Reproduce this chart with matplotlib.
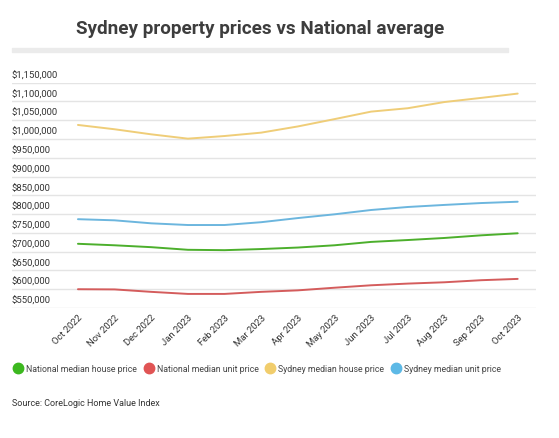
import matplotlib
matplotlib.use("Agg")
import matplotlib.pyplot as plt
import matplotlib.transforms as mtransforms
from matplotlib.lines import Line2D
from matplotlib.patches import Rectangle

plt.rcParams['font.family'] = ['Roboto', 'DejaVu Sans']

months = ["Oct 2022", "Nov 2022", "Dec 2022", "Jan 2023", "Feb 2023", "Mar 2023", "Apr 2023",
          "May 2023", "Jun 2023", "Jul 2023", "Aug 2023", "Sep 2023", "Oct 2023"]

national_house = [721000, 717000, 712000, 705000, 704000, 707000, 711000,
                  717000, 726000, 731000, 736500, 743500, 749000]
national_unit = [600000, 599500, 593000, 587500, 587500, 593000, 597000,
                 604000, 610500, 615000, 618500, 624000, 627500]
sydney_house = [1037500, 1026000, 1012500, 1001000, 1008000, 1017000, 1033500,
                1053000, 1073000, 1082000, 1098500, 1109500, 1121000]
sydney_unit = [786500, 783500, 775500, 771000, 771000, 778500, 789500,
               799500, 811000, 819000, 824500, 829500, 833000]

series_names = ["National median house price", "National median unit price",
                "Sydney median house price", "Sydney median unit price"]
line_colors = ["#4caf2c", "#d45c5c", "#efcd78", "#6cb6de"]
dot_colors = ["#3cb81f", "#e05454", "#f1cd6c", "#5db9e6"]

y_ticks = list(range(550000, 1150001, 50000))

W, H = 559, 438
fig = plt.figure(figsize=(W / 100, H / 100), dpi=100)
fig.patch.set_facecolor("white")

# title + grey rule underneath
fig.text(260 / W, 1 - 29 / H, "Sydney property prices vs National average",
         ha="center", va="center", fontsize=13.6, fontweight="bold", color="#3d3d3d")
fig.patches.append(Rectangle((12 / W, 1 - 51.5 / H), 496 / W, 3.2 / H,
                             transform=fig.transFigure, color="#ebebeb", zorder=0))

ax = fig.add_axes([12 / W, 1 - 308 / H, 524 / W, 225.3 / H])
x = list(range(len(months)))
for vals, c in zip([national_house, national_unit, sydney_house, sydney_unit], line_colors):
    ax.plot(x, vals, color=c, lw=1.4, solid_capstyle="round", zorder=3)

ax.set_xlim(-1.80, 12.5)
ax.set_ylim(550000, 1150000)
for s in ax.spines.values():
    s.set_visible(False)

ax.set_yticks(y_ticks)
ax.set_yticklabels([])
ax.tick_params(axis="y", length=0)
ax.grid(axis="y", color="#e4e4e4", lw=1)
ax.set_axisbelow(True)

# y labels sit left-aligned just above their grid line
lab_tr = mtransforms.blended_transform_factory(ax.transAxes, ax.transData) + \
    mtransforms.ScaledTranslation(0, 1.5 / 72, fig.dpi_scale_trans)
for v in y_ticks:
    ax.text(0, v, "${:,}".format(v), transform=lab_tr, ha="left", va="bottom",
            fontsize=6.8, color="#333333")

ax.set_xticks(x)
ax.set_xticklabels(months, rotation=45, ha="right", rotation_mode="anchor",
                   fontsize=6.8, color="#333333")
ax.tick_params(axis="x", length=0, pad=4)

handles = [Line2D([], [], ls="", marker="o", ms=7.5, color=c) for c in dot_colors]
fig.legend(handles, series_names, loc="center left", bbox_to_anchor=(11 / W, 1 - 369 / H),
           ncol=4, frameon=False, fontsize=6.3, handlelength=0.8, handletextpad=0.55,
           columnspacing=0.9, borderaxespad=0, labelcolor="#444444")

fig.text(12 / W, 1 - 403 / H, "Source: CoreLogic Home Value Index",
         ha="left", va="center", fontsize=6.5, color="#333333")

fig.savefig("out.png", dpi=100)
